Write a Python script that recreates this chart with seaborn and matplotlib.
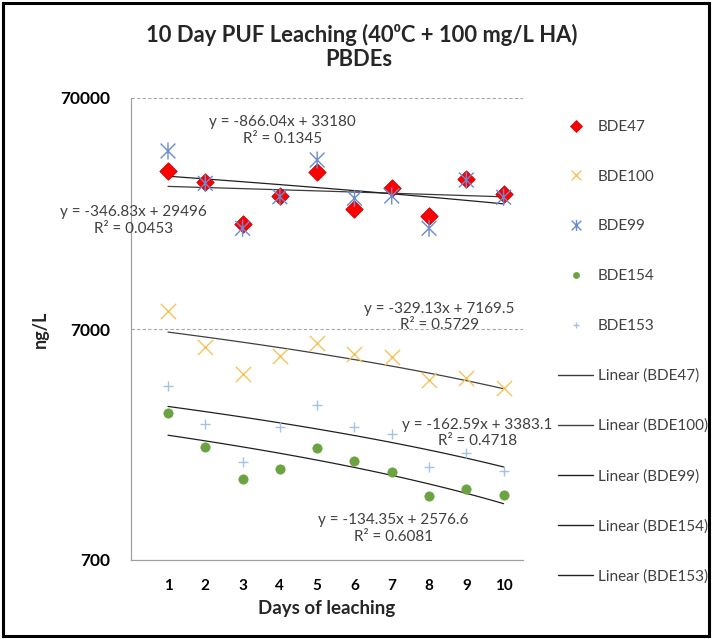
import numpy as np
import pandas as pd
import matplotlib
matplotlib.use("Agg")
import matplotlib.pyplot as plt
from matplotlib.lines import Line2D
from matplotlib.path import Path
from matplotlib.patches import Rectangle
import seaborn as sns

# ---------------- data ----------------
days = [1, 2, 3, 4, 5, 6, 7, 8, 9, 10]
bde47 = [33920, 30390, 19880, 26360, 33590, 23220, 28630, 21600, 31230, 26890]
bde100 = [8375, 5867, 4470, 5348, 6069, 5456, 5280, 4210, 4282, 3877]
bde99 = [41280, 29910, 19100, 26170, 37730, 25760, 26360, 19100, 30910, 26020]
bde154 = [3039, 2153, 1569, 1729, 2131, 1884, 1688, 1325, 1421, 1338]
bde153 = [3966, 2715, 1859, 2628, 3282, 2628, 2451, 1764, 2028, 1700]
series_names = ["BDE47", "BDE100", "BDE99", "BDE154", "BDE153"]
y_ticks = [700, 7000, 70000]
y_ticklabels = ["700", "7000", "70000"]
eq_texts = {
    "BDE99": "y = -866.04x + 33180\nR\u00b2 = 0.1345",
    "BDE47": "y = -346.83x + 29496\nR\u00b2 = 0.0453",
    "BDE100": "y = -329.13x + 7169.5\nR\u00b2 = 0.5729",
    "BDE153": "y = -162.59x + 3383.1\nR\u00b2 = 0.4718",
    "BDE154": "y = -134.35x + 2576.6\nR\u00b2 = 0.6081",
}
eq_pos = {
    "BDE99": (4.06, 50640),
    "BDE47": (0.08, 20640),
    "BDE100": (8.28, 7889),
    "BDE153": (9.30, 2483),
    "BDE154": (7.04, 958),
}

df = pd.DataFrame({"Day": days, "BDE47": bde47, "BDE100": bde100,
                   "BDE99": bde99, "BDE154": bde154, "BDE153": bde153})

# ---------------- style ----------------
sns.set_style("white")
plt.rcParams["font.family"] = ["Lato", "DejaVu Sans"]

fig = plt.figure(figsize=(7.12, 6.39), dpi=100)
ax = fig.add_axes([130.7 / 712, 1 - 560 / 639, (523 - 130.7) / 712, (560 - 98) / 639])

star = Path([(-1, -1), (1, 1), (-1, 1), (1, -1), (0, -1.15), (0, 1.15)],
            [Path.MOVETO, Path.LINETO, Path.MOVETO, Path.LINETO, Path.MOVETO, Path.LINETO])

styles = {
    "BDE47": dict(marker="D", s=78, color="#FF0000", edgecolor="#C00000", linewidth=0.6),
    "BDE100": dict(marker="x", s=120, color="#F5C35A", linewidth=1.0),
    "BDE99": dict(marker=star, s=150, facecolor="none", edgecolor="#6A8BD0", color="#6A8BD0",
                  linewidth=1.0),
    "BDE154": dict(marker="o", s=45, color="#6AA33F", edgecolor="#6AA33F", linewidth=0.5),
    "BDE153": dict(marker="+", s=60, color="#A4C2E8", linewidth=1.0),
}
trend_colors = {"BDE47": "#3a3a3a", "BDE100": "#404040", "BDE99": "#202020",
                "BDE154": "#202020", "BDE153": "#202020"}

ax.set_yscale("log")
for name in series_names:
    sns.scatterplot(data=df, x="Day", y=name, ax=ax, legend=False, zorder=3, **styles[name])
for name in series_names:
    sns.regplot(data=df, x="Day", y=name, ax=ax, scatter=False, ci=None, truncate=True,
                line_kws=dict(color=trend_colors[name], lw=0.9, zorder=2))

ax.set_xlim(0, 10.52)
ax.set_ylim(700, 70000)
ax.set_xticks(days)
ax.set_xticklabels([str(d) for d in days], fontsize=11, fontweight="bold")
ax.set_yticks(y_ticks)
ax.set_yticklabels(y_ticklabels, fontsize=12.5, fontweight="bold")
ax.yaxis.set_minor_locator(matplotlib.ticker.NullLocator())
ax.tick_params(axis="both", length=0, colors="#000000")
ax.tick_params(axis="y", pad=15)
ax.tick_params(axis="x", pad=14)
for t in ax.get_yticklabels() + ax.get_xticklabels():
    t.set_color("black")
ax.grid(False)
for y in [7000, 70000]:
    ax.axhline(y, color="#A6A6A6", lw=0.8, ls=(0, (3, 2)), zorder=1)
for side in ["top", "right"]:
    ax.spines[side].set_visible(False)
for side in ["left", "bottom"]:
    ax.spines[side].set_color("#A0A0A0")
    ax.spines[side].set_linewidth(0.9)

ax.set_xlabel("Days of leaching", fontsize=13.5, fontweight="bold", labelpad=5)
ax.set_ylabel("ng/L", fontsize=13, fontweight="bold", labelpad=8)

for name in series_names:
    x0, y0 = eq_pos[name]
    ax.text(x0, y0, eq_texts[name], ha="center", va="center", fontsize=11,
            color="#404040", linespacing=1.2, clip_on=False, zorder=4)

fig.text(362 / 712, 1 - 35 / 639, "10 Day PUF Leaching (40\u2070C + 100 mg/L HA)",
         ha="center", va="center", fontsize=15.8, fontweight="bold")
fig.text(359 / 712, 1 - 60 / 639, "PBDEs", ha="center", va="center",
         fontsize=15.8, fontweight="bold")

# legend
handles = []
labels = []
for name in series_names:
    st = styles[name]
    mk = st["marker"]
    ms = np.sqrt(st["s"])
    if name in ("BDE47", "BDE154"):
        h = Line2D([], [], ls="none", marker=mk, markersize=ms * 0.65,
                   markerfacecolor=st["color"], markeredgecolor=st.get("edgecolor", st["color"]),
                   markeredgewidth=0.5)
    else:
        h = Line2D([], [], ls="none", marker=mk, markersize=ms * 0.65,
                   color=st["color"], markeredgecolor=st["color"], markerfacecolor="none",
                   markeredgewidth=1.0)
    handles.append(h)
    labels.append(name)
for name in series_names:
    handles.append(Line2D([], [], color=trend_colors[name], lw=1))
    labels.append(f"Linear ({name})")
fig.legend(handles, labels, loc="upper left", bbox_to_anchor=(558 / 712, 1 - 120 / 639),
           frameon=False, fontsize=11, labelspacing=2.34, handlelength=2.3,
           handletextpad=0.3, borderpad=0, borderaxespad=0, labelcolor="#404040")

fig.patches.append(Rectangle((0.004, 0.004), 0.992, 0.992, transform=fig.transFigure,
                             fill=False, edgecolor="black", lw=2.2))

fig.savefig("out.png", dpi=100, facecolor="white")
